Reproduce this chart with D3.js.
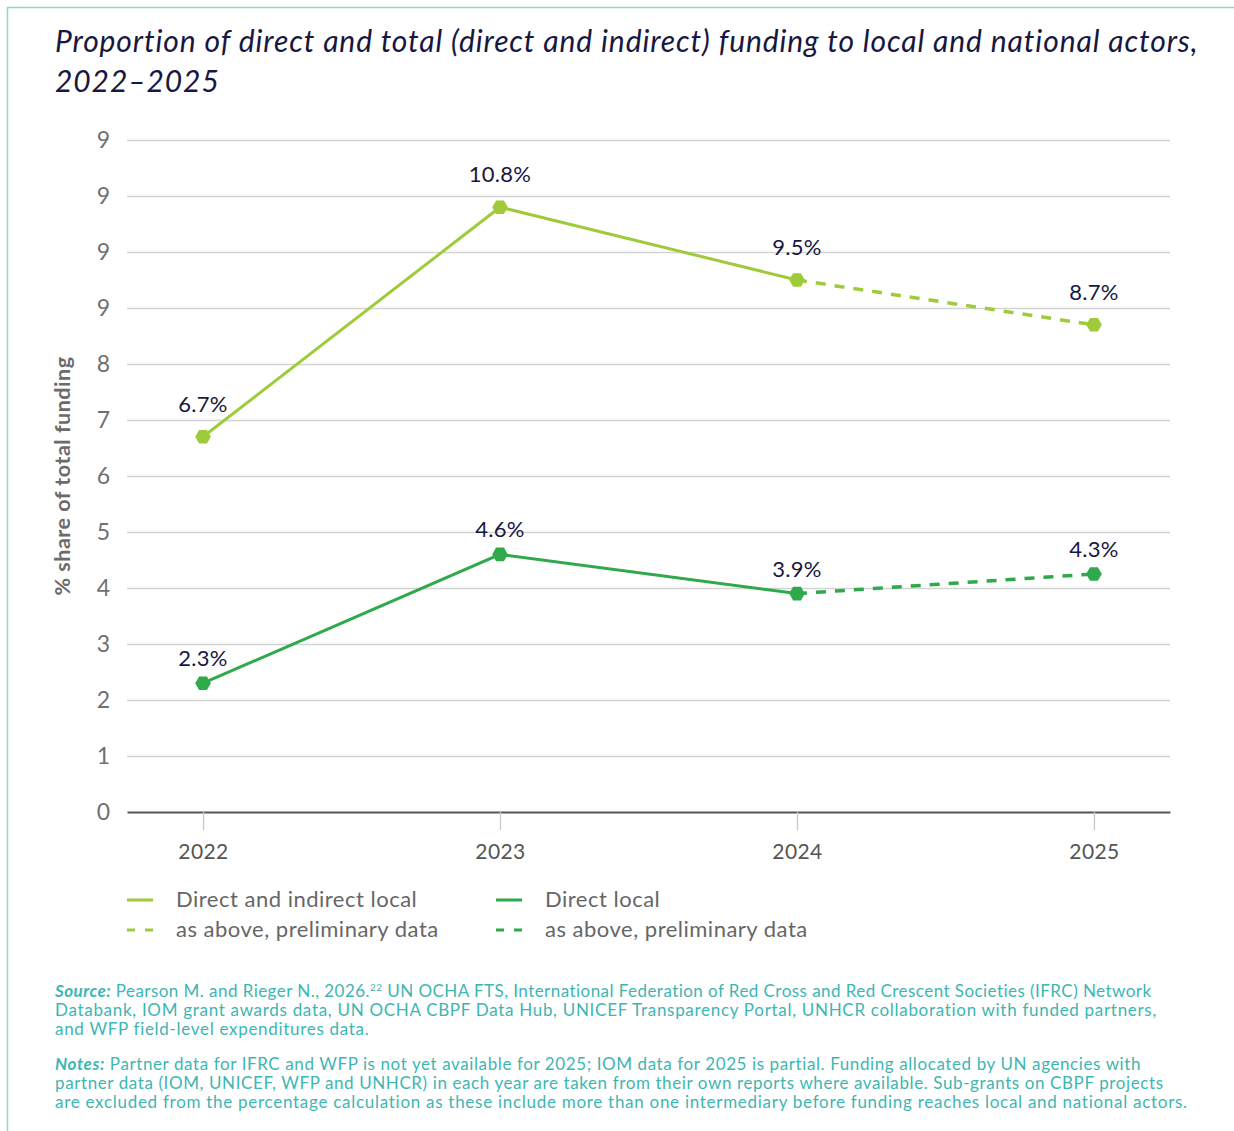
<!DOCTYPE html>
<html>
<head>
<meta charset="utf-8">
<script src="https://cdn.jsdelivr.net/npm/d3@7"></script>
<style>
  body { margin: 0; background: #fff; }
  svg { display: block; font-family: Lato, "Open Sans", sans-serif; }
</style>
</head>
<body>
<svg id="chart"></svg>
<script>
var width = 1234;
var height = 1131;

// data
var years = ["2022", "2023", "2024", "2025"];
var totalLocal = [6.7, 10.8, 9.5, 8.7];
var directLocal = [2.3, 4.6, 3.9, 4.25];
var totalLabels = ["6.7%", "10.8%", "9.5%", "8.7%"];
var directLabels = ["2.3%", "4.6%", "3.9%", "4.3%"];
var yTicks = [0, 1, 2, 3, 4, 5, 6, 7, 8, 9, 10, 11, 12];
var yTickLabels = ["0", "1", "2", "3", "4", "5", "6", "7", "8", "9", "9", "9", "9"];
var preliminaryFrom = 2; // index where the dashed (preliminary) part starts

var lightGreen = "#9fcb3b";
var darkGreen = "#2fa94b";
var navy = "#17173f";
var teal = "#3db6b2";

var plotLeft = 127, plotRight = 1170, plotTop = 140, plotBottom = 812;

var svg = d3.select("#chart")
    .attr("width", width)
    .attr("height", height);

// frame
svg.append("path")
    .attr("d", "M7.5," + height + "V7.5H" + width)
    .attr("fill", "none")
    .attr("stroke", "#8fd8c8")
    .attr("stroke-width", 1.5);

var xScale = d3.scalePoint()
    .domain(years)
    .range([plotLeft, plotRight])
    .padding(0.256);

var yScale = d3.scaleLinear()
    .domain([0, 12])
    .range([plotBottom, plotTop]);

// title
var title = svg.append("text")
    .attr("fill", navy)
    .attr("font-size", 30)
    .attr("letter-spacing", 0.9)
    .attr("font-style", "italic");
title.append("tspan").attr("x", 55).attr("y", 52)
    .text("Proportion of direct and total (direct and indirect) funding to local and national actors,");
title.append("tspan").attr("x", 55).attr("y", 92)
    .text("2022\u20132025");

// gridlines + y labels
var yAxis = d3.axisLeft(yScale)
    .tickValues(yTicks)
    .tickFormat((d, i) => yTickLabels[i])
    .tickSize(-(plotRight - plotLeft))
    .tickPadding(17);
var gy = svg.append("g")
    .attr("transform", "translate(" + plotLeft + ",0)")
    .call(yAxis);
gy.select(".domain").remove();
gy.selectAll(".tick line").attr("stroke", "#d4d4d4").attr("stroke-width", 1.3);
gy.selectAll(".tick text")
    .attr("fill", "#707070")
    .attr("font-size", 23)
    .attr("font-family", "Lato, sans-serif");
gy.selectAll(".tick").filter(d => d === 0).select("line").remove();

// x axis
var xAxis = d3.axisBottom(xScale)
    .tickSize(18)
    .tickSizeOuter(0)
    .tickPadding(14);
var gx = svg.append("g")
    .attr("transform", "translate(0," + plotBottom + ")")
    .call(xAxis);
gx.select(".domain").attr("stroke", "#555").attr("stroke-width", 2);
gx.selectAll(".tick line").attr("stroke", "#c8c8c8").attr("stroke-width", 1.3);
gx.selectAll(".tick text")
    .attr("fill", "#555")
    .attr("font-size", 21)
    .attr("letter-spacing", 0.4)
    .attr("font-family", "Lato, sans-serif");

// y axis title
svg.append("text")
    .attr("transform", "rotate(-90)")
    .attr("x", -476)
    .attr("y", 70)
    .attr("text-anchor", "middle")
    .attr("fill", "#6b6b6b")
    .attr("font-size", 21.5)
    .attr("letter-spacing", 0.5)
    .attr("font-weight", "bold")
    .text("% share of total funding");

var line = d3.line()
    .x(d => xScale(d.year))
    .y(d => yScale(d.value));

var hexagon = d3.symbol().type({
    draw: function(ctx, size) {
        var r = Math.sqrt(size / 2.598);
        for (var i = 0; i < 6; i++) {
            var a = Math.PI / 3 * i;
            var px = r * Math.cos(a), py = r * Math.sin(a);
            if (i === 0) ctx.moveTo(px, py); else ctx.lineTo(px, py);
        }
        ctx.closePath();
    }
}).size(160);

function drawSeries(values, labels, color, labelGap) {
    var pts = years.map((y, i) => ({ year: y, value: values[i], label: labels[i] }));
    svg.append("path")
        .datum(pts.slice(0, preliminaryFrom + 1))
        .attr("d", line)
        .attr("fill", "none")
        .attr("stroke", color)
        .attr("stroke-width", 3);
    svg.append("path")
        .datum(pts.slice(preliminaryFrom))
        .attr("d", line)
        .attr("fill", "none")
        .attr("stroke", color)
        .attr("stroke-width", 3.5)
        .attr("stroke-dasharray", "10,9");
    svg.selectAll(null)
        .data(pts)
        .enter()
        .append("path")
        .attr("d", hexagon)
        .attr("transform", d => "translate(" + xScale(d.year) + "," + yScale(d.value) + ")")
        .attr("fill", color);
    svg.selectAll(null)
        .data(pts)
        .enter()
        .append("text")
        .attr("x", d => xScale(d.year))
        .attr("y", d => yScale(d.value) - labelGap)
        .attr("text-anchor", "middle")
        .attr("fill", navy)
        .attr("font-size", 22)
        .attr("letter-spacing", 0.3)
        .text(d => d.label);
}

drawSeries(totalLocal, totalLabels, lightGreen, 25);
drawSeries(directLocal, directLabels, darkGreen, 17);

// legend
var legendItems = [
    { x: 127, y: 900, color: lightGreen, dash: null, text: "Direct and indirect local" },
    { x: 127, y: 930, color: lightGreen, dash: "8,10", text: "as above, preliminary data" },
    { x: 496, y: 900, color: darkGreen, dash: null, text: "Direct local" },
    { x: 496, y: 930, color: darkGreen, dash: "8,10", text: "as above, preliminary data" }
];
var legend = svg.append("g");
legend.selectAll("line")
    .data(legendItems)
    .enter()
    .append("line")
    .attr("x1", d => d.x)
    .attr("x2", d => d.x + 26)
    .attr("y1", d => d.y)
    .attr("y2", d => d.y)
    .attr("stroke", d => d.color)
    .attr("stroke-width", 3)
    .attr("stroke-dasharray", d => d.dash);
legend.selectAll("text")
    .data(legendItems)
    .enter()
    .append("text")
    .attr("x", d => d.x + 49)
    .attr("y", d => d.y + 7)
    .attr("fill", "#666")
    .attr("font-size", 22)
    .attr("letter-spacing", 0.5)
    .text(d => d.text);

// source and notes
var sourceLines = [
    "Databank, IOM grant awards data, UN OCHA CBPF Data Hub, UNICEF Transparency Portal, UNHCR collaboration with funded partners,",
    "and WFP field-level expenditures data."
];
var notesLines = [
    "partner data (IOM, UNICEF, WFP and UNHCR) in each year are taken from their own reports where available. Sub-grants on CBPF projects",
    "are excluded from the percentage calculation as these include more than one intermediary before funding reaches local and national actors."
];

var foot = svg.append("g")
    .attr("fill", teal)
    .attr("font-size", 17)
    .attr("letter-spacing", 0.7);

var s1 = foot.append("text").attr("x", 55).attr("y", 997).attr("letter-spacing", 0.45);
s1.append("tspan").attr("font-weight", "bold").attr("font-style", "italic").text("Source:");
s1.append("tspan").text(" Pearson M. and Rieger N., 2026.");
s1.append("tspan").attr("font-size", 10).attr("dy", -6).text("22");
s1.append("tspan").attr("dy", 6).text(" UN OCHA FTS, International Federation of Red Cross and Red Crescent Societies (IFRC) Network");
foot.selectAll(".src")
    .data(sourceLines)
    .enter()
    .append("text")
    .attr("x", 55)
    .attr("y", (d, i) => 1016 + i * 19)
    .text(d => d);

var n1 = foot.append("text").attr("x", 55).attr("y", 1070).attr("letter-spacing", 0.6);
n1.append("tspan").attr("font-weight", "bold").attr("font-style", "italic").text("Notes:");
n1.append("tspan").text(" Partner data for IFRC and WFP is not yet available for 2025; IOM data for 2025 is partial. Funding allocated by UN agencies with");
foot.selectAll(".note")
    .data(notesLines)
    .enter()
    .append("text")
    .attr("x", 55)
    .attr("y", (d, i) => 1089 + i * 19)
    .attr("letter-spacing", (d, i) => i === 0 ? 0.6 : 0.72)
    .text(d => d);
</script>
</body>
</html>
